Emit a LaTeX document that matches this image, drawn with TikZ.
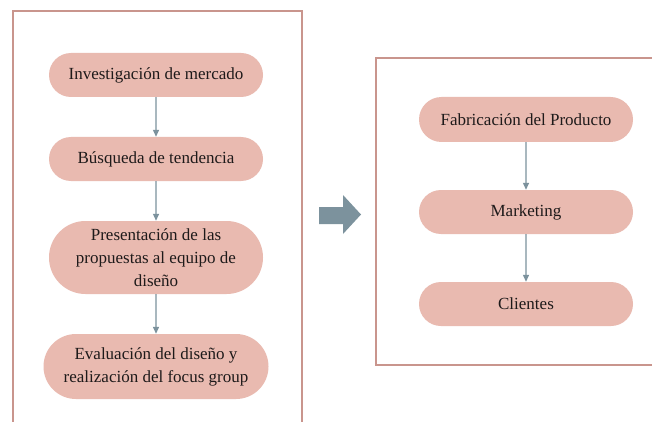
\documentclass[tikz,border=0pt]{standalone}
\usepackage{fontspec}
\setmainfont{Liberation Serif}
\usetikzlibrary{shapes.misc,arrows.meta}
\definecolor{pill}{HTML}{E9BAB0}
\definecolor{frame}{HTML}{C9958D}
\definecolor{link}{HTML}{7C929D}
\definecolor{ink}{HTML}{1E1A1A}
\tikzset{
  pillbox/.style={rounded rectangle, fill=pill, draw=none, text=ink, align=center,
    font=\fontsize{17}{23}\selectfont, inner sep=2pt},
  flow/.style={draw=link, line width=1.3pt, -{Triangle[length=7pt,width=6pt]}},
  framebox/.style={draw=frame, line width=1.5pt}
}
\begin{document}
\begin{tikzpicture}[x=1pt,y=-1pt]
\useasboundingbox (0,0) rectangle (652,422);
\clip (0,0) rectangle (652,422);
\fill[white] (0,0) rectangle (652,422);
% frames
\draw[framebox] (13,440) -- (13,11) -- (302,11) -- (302,440);
\draw[framebox] (670,58) -- (376,58) -- (376,365) -- (670,365);
% left column
\node[pillbox, minimum width=218pt, minimum height=44pt] (n1) at (156,75) {Investigación de mercado};
\node[pillbox, minimum width=218pt, minimum height=44pt] (n2) at (156,159) {Búsqueda de tendencia};
\node[pillbox, minimum width=218pt, minimum height=73pt] (n3) at (156,257.5) {Presentación de las\\propuestas al equipo de\\diseño};
\node[pillbox, minimum width=229pt, minimum height=65pt] (n4) at (156,366.5) {Evaluación del diseño y\\realización del focus group};
\draw[flow] (n1) -- (n2);
\draw[flow] (n2) -- (n3);
\draw[flow] (n3) -- (n4);
% right column
\node[pillbox, minimum width=218pt, minimum height=45pt] (m1) at (526,119.5) {Fabricación del Producto};
\node[pillbox, minimum width=218pt, minimum height=44pt] (m2) at (526,212) {Marketing};
\node[pillbox, minimum width=218pt, minimum height=44pt] (m3) at (526,304) {Clientes};
\draw[flow] (m1) -- (m2);
\draw[flow] (m2) -- (m3);
% big arrow
\fill[link] (319,207) -- (343,207) -- (343,195) -- (361,214.5) -- (343,234) -- (343,224) -- (319,224) -- cycle;
\end{tikzpicture}
\end{document}
